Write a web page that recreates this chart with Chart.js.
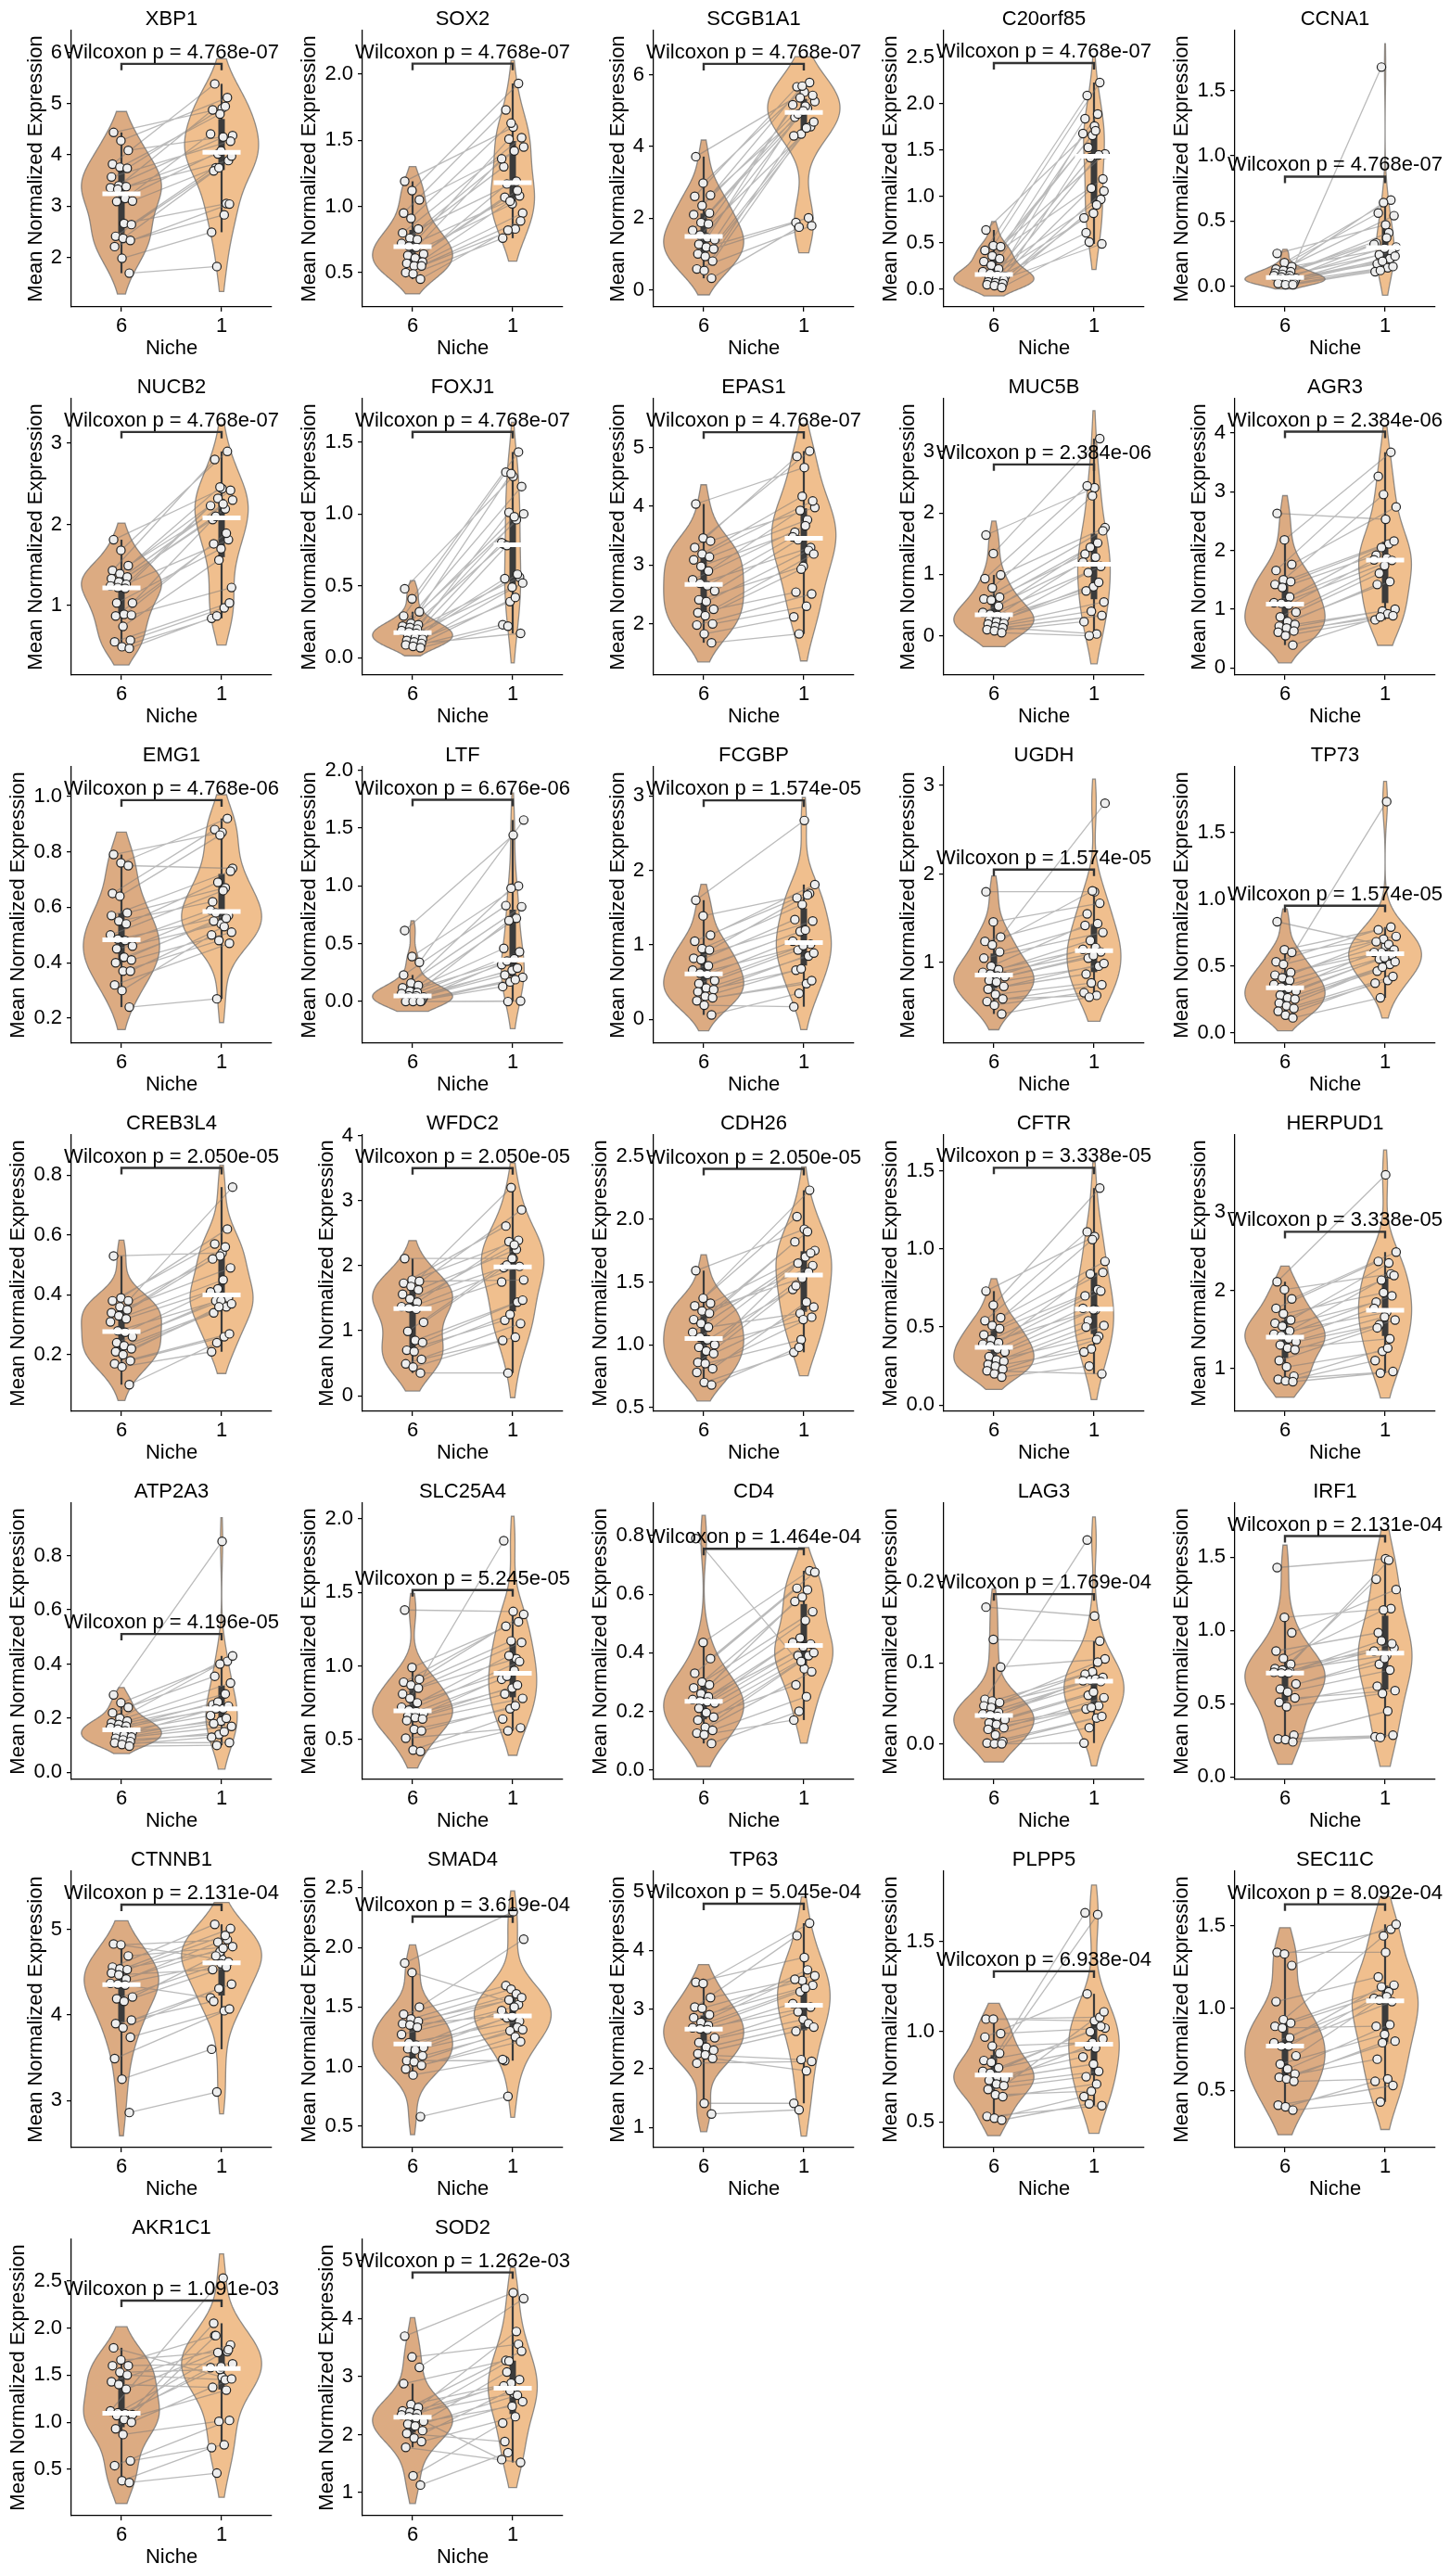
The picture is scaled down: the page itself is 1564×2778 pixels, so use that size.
<!DOCTYPE html>
<html>
<head>
<meta charset="utf-8">
<script src="https://cdn.jsdelivr.net/npm/chart.js@4.4.1/dist/chart.umd.min.js"></script>
<style>
  body { margin: 0; background: #fff; }
  #grid { position: relative; width: 1564px; height: 2778px; }
  #grid canvas { position: absolute; }
</style>
</head>
<body>
<div id="grid"></div>
<script>
const nicheNames = ["6", "1"];

const genes = ["XBP1", "SOX2", "SCGB1A1", "C20orf85", "CCNA1",
    "NUCB2", "FOXJ1", "EPAS1", "MUC5B", "AGR3",
    "EMG1", "LTF", "FCGBP", "UGDH", "TP73",
    "CREB3L4", "WFDC2", "CDH26", "CFTR", "HERPUD1",
    "ATP2A3", "SLC25A4", "CD4", "LAG3", "IRF1",
    "CTNNB1", "SMAD4", "TP63", "PLPP5", "SEC11C",
    "AKR1C1", "SOD2"];

const pLabels = ["4.768e-07", "4.768e-07", "4.768e-07", "4.768e-07", "4.768e-07",
    "4.768e-07", "4.768e-07", "4.768e-07", "2.384e-06", "2.384e-06",
    "4.768e-06", "6.676e-06", "1.574e-05", "1.574e-05", "1.574e-05",
    "2.050e-05", "2.050e-05", "2.050e-05", "3.338e-05", "3.338e-05",
    "4.196e-05", "5.245e-05", "1.464e-04", "1.769e-04", "2.131e-04",
    "2.131e-04", "3.619e-04", "5.045e-04", "6.938e-04", "8.092e-04",
    "1.091e-03", "1.262e-03"];

const yMin = [1.03, 0.24, -0.48, -0.19, -0.16,
    0.14, -0.12, 1.13, -0.64, -0.12,
    0.11, -0.36, -0.32, 0.09, -0.08,
    0.011, -0.24, 0.47, -0.04, 0.45,
    -0.026, 0.23, -0.033, -0.044, -0.017,
    2.45, 0.32, 0.66, 0.357, 0.152,
    0.008, 0.60];

const yMax = [6.43, 2.33, 7.24, 2.79, 1.96,
    3.55, 1.80, 5.83, 3.86, 4.58,
    1.106, 2.03, 3.39, 3.21, 1.99,
    0.934, 4.01, 2.67, 1.73, 3.99,
    0.994, 2.105, 0.911, 0.2975, 1.87,
    5.68, 2.64, 5.34, 1.89, 1.833,
    2.94, 5.37];

// height of the significance bracket, in data units
const bracketY = [5.78, 2.08, 6.31, 2.44, 0.84,
    3.14, 1.57, 5.26, 2.79, 4.02,
    0.986, 1.745, 2.94, 2.05, 0.95,
    0.824, 3.50, 2.40, 1.52, 2.75,
    0.511, 1.515, 0.755, 0.185, 1.645,
    5.29, 2.26, 4.79, 1.335, 1.632,
    2.29, 4.80];

const tickLabels = [
    ["2", "3", "4", "5", "6"], ["0.5", "1.0", "1.5", "2.0"], ["0", "2", "4", "6"],
    ["0.0", "0.5", "1.0", "1.5", "2.0", "2.5"], ["0.0", "0.5", "1.0", "1.5"],
    ["1", "2", "3"], ["0.0", "0.5", "1.0", "1.5"], ["2", "3", "4", "5"],
    ["0", "1", "2", "3"], ["0", "1", "2", "3", "4"],
    ["0.2", "0.4", "0.6", "0.8", "1.0"], ["0.0", "0.5", "1.0", "1.5", "2.0"], ["0", "1", "2", "3"],
    ["1", "2", "3"], ["0.0", "0.5", "1.0", "1.5"],
    ["0.2", "0.4", "0.6", "0.8"], ["0", "1", "2", "3", "4"], ["0.5", "1.0", "1.5", "2.0", "2.5"],
    ["0.0", "0.5", "1.0", "1.5"], ["1", "2", "3"],
    ["0.0", "0.2", "0.4", "0.6", "0.8"], ["0.5", "1.0", "1.5", "2.0"], ["0.0", "0.2", "0.4", "0.6", "0.8"],
    ["0.0", "0.1", "0.2"], ["0.0", "0.5", "1.0", "1.5"],
    ["3", "4", "5"], ["0.5", "1.0", "1.5", "2.0", "2.5"], ["1", "2", "3", "4", "5"],
    ["0.5", "1.0", "1.5"], ["0.5", "1.0", "1.5"],
    ["0.5", "1.0", "1.5", "2.0", "2.5"], ["1", "2", "3", "4", "5"]
];

// one value per sample; index i in niche6 is paired with index i in niche1
const niche6 = [
    [4.44, 4.28, 4.09, 3.82, 3.76, 3.74, 3.57, 3.40, 3.38, 3.36, 3.33, 3.15, 3.10, 3.09, 2.66, 2.64, 2.41, 2.37, 2.33, 2.21, 1.98, 1.69],
    [1.19, 1.12, 1.05, 0.95, 0.91, 0.83, 0.80, 0.76, 0.75, 0.72, 0.70, 0.69, 0.64, 0.63, 0.61, 0.58, 0.57, 0.55, 0.55, 0.50, 0.49, 0.45],
    [3.72, 2.98, 2.64, 2.61, 2.35, 2.14, 2.10, 1.88, 1.84, 1.66, 1.53, 1.45, 1.40, 1.27, 1.19, 1.14, 1.00, 0.93, 0.80, 0.58, 0.54, 0.32],
    [0.64, 0.47, 0.46, 0.42, 0.36, 0.33, 0.30, 0.26, 0.22, 0.19, 0.17, 0.15, 0.14, 0.12, 0.11, 0.10, 0.08, 0.07, 0.06, 0.05, 0.04, 0.02],
    [0.25, 0.18, 0.15, 0.13, 0.12, 0.11, 0.10, 0.09, 0.08, 0.08, 0.07, 0.06, 0.06, 0.05, 0.05, 0.04, 0.04, 0.03, 0.02, 0.02, 0.01, 0.01],
    [1.81, 1.68, 1.49, 1.43, 1.39, 1.35, 1.33, 1.29, 1.26, 1.24, 1.22, 1.21, 1.03, 1.03, 0.89, 0.88, 0.87, 0.74, 0.57, 0.55, 0.49, 0.47],
    [0.48, 0.41, 0.32, 0.29, 0.24, 0.23, 0.22, 0.21, 0.20, 0.19, 0.18, 0.17, 0.16, 0.15, 0.14, 0.13, 0.12, 0.11, 0.10, 0.09, 0.08, 0.07],
    [4.04, 3.46, 3.41, 3.30, 3.19, 3.14, 3.09, 2.98, 2.90, 2.75, 2.69, 2.65, 2.56, 2.41, 2.38, 2.25, 2.19, 2.14, 2.00, 1.98, 1.83, 1.68],
    [1.64, 1.34, 0.99, 0.93, 0.78, 0.63, 0.60, 0.58, 0.48, 0.38, 0.35, 0.33, 0.30, 0.25, 0.23, 0.20, 0.19, 0.15, 0.13, 0.10, 0.08, 0.05],
    [2.63, 2.18, 1.76, 1.66, 1.50, 1.47, 1.42, 1.37, 1.21, 1.11, 1.10, 1.07, 0.95, 0.87, 0.79, 0.74, 0.71, 0.68, 0.63, 0.61, 0.55, 0.39],
    [0.79, 0.76, 0.75, 0.65, 0.64, 0.58, 0.57, 0.55, 0.54, 0.50, 0.485, 0.48, 0.46, 0.45, 0.42, 0.41, 0.40, 0.37, 0.37, 0.32, 0.30, 0.24],
    [0.615, 0.39, 0.34, 0.23, 0.16, 0.14, 0.12, 0.09, 0.08, 0.07, 0.05, 0.05, 0.04, 0.03, 0.03, 0.02, 0.01, 0.01, 0.005, 0.0, 0.0, 0.0],
    [1.60, 1.39, 1.13, 1.05, 0.95, 0.93, 0.82, 0.80, 0.72, 0.66, 0.62, 0.60, 0.52, 0.48, 0.42, 0.40, 0.37, 0.31, 0.29, 0.25, 0.19, 0.06],
    [1.80, 1.46, 1.29, 1.24, 1.20, 1.12, 1.05, 0.96, 0.92, 0.89, 0.87, 0.85, 0.84, 0.80, 0.78, 0.73, 0.70, 0.64, 0.59, 0.56, 0.52, 0.42],
    [0.83, 0.62, 0.60, 0.53, 0.51, 0.45, 0.43, 0.41, 0.39, 0.36, 0.34, 0.33, 0.31, 0.28, 0.26, 0.25, 0.22, 0.20, 0.18, 0.16, 0.13, 0.11],
    [0.53, 0.39, 0.38, 0.38, 0.36, 0.35, 0.34, 0.33, 0.32, 0.31, 0.28, 0.275, 0.26, 0.24, 0.23, 0.22, 0.21, 0.20, 0.18, 0.17, 0.16, 0.10],
    [2.11, 1.78, 1.76, 1.73, 1.68, 1.63, 1.56, 1.49, 1.44, 1.37, 1.35, 1.33, 1.13, 0.99, 0.85, 0.82, 0.70, 0.68, 0.56, 0.49, 0.44, 0.35],
    [1.59, 1.37, 1.33, 1.31, 1.27, 1.25, 1.20, 1.17, 1.14, 1.10, 1.06, 1.04, 1.00, 0.98, 0.95, 0.93, 0.86, 0.85, 0.81, 0.78, 0.70, 0.68],
    [0.73, 0.64, 0.56, 0.54, 0.51, 0.49, 0.45, 0.42, 0.40, 0.39, 0.38, 0.36, 0.34, 0.31, 0.29, 0.28, 0.26, 0.25, 0.23, 0.22, 0.20, 0.18],
    [2.11, 2.01, 1.89, 1.77, 1.70, 1.62, 1.58, 1.54, 1.48, 1.44, 1.42, 1.38, 1.34, 1.30, 1.26, 1.24, 1.10, 1.02, 0.90, 0.86, 0.84, 0.83],
    [0.286, 0.257, 0.24, 0.22, 0.20, 0.19, 0.183, 0.177, 0.171, 0.166, 0.16, 0.154, 0.149, 0.143, 0.137, 0.131, 0.126, 0.12, 0.114, 0.109, 0.103, 0.097],
    [1.38, 0.99, 0.91, 0.89, 0.87, 0.85, 0.81, 0.78, 0.75, 0.72, 0.70, 0.69, 0.68, 0.66, 0.65, 0.64, 0.63, 0.57, 0.56, 0.51, 0.43, 0.42],
    [0.79, 0.435, 0.38, 0.33, 0.30, 0.29, 0.28, 0.26, 0.25, 0.24, 0.235, 0.232, 0.228, 0.21, 0.195, 0.18, 0.17, 0.145, 0.135, 0.125, 0.12, 0.09],
    [0.169, 0.129, 0.095, 0.055, 0.053, 0.051, 0.047, 0.045, 0.039, 0.037, 0.036, 0.034, 0.030, 0.026, 0.024, 0.020, 0.018, 0.011, 0.003, 0.001, 0.0, 0.0],
    [1.43, 1.09, 0.985, 0.86, 0.81, 0.77, 0.74, 0.73, 0.72, 0.715, 0.71, 0.71, 0.635, 0.60, 0.58, 0.54, 0.51, 0.48, 0.285, 0.26, 0.255, 0.24],
    [4.83, 4.82, 4.69, 4.56, 4.54, 4.53, 4.49, 4.47, 4.42, 4.37, 4.36, 4.35, 4.21, 4.19, 4.16, 3.94, 3.90, 3.85, 3.74, 3.49, 3.25, 2.86],
    [1.87, 1.79, 1.50, 1.44, 1.40, 1.38, 1.36, 1.35, 1.33, 1.27, 1.20, 1.18, 1.16, 1.15, 1.14, 1.09, 1.05, 1.04, 1.01, 0.98, 0.93, 0.58],
    [3.46, 3.44, 3.20, 3.04, 3.02, 2.91, 2.86, 2.78, 2.73, 2.69, 2.67, 2.66, 2.52, 2.44, 2.36, 2.31, 2.25, 2.23, 2.17, 2.09, 1.41, 1.23],
    [1.07, 1.07, 0.99, 0.97, 0.92, 0.88, 0.84, 0.83, 0.80, 0.78, 0.77, 0.75, 0.74, 0.73, 0.71, 0.70, 0.68, 0.65, 0.64, 0.53, 0.52, 0.51],
    [1.34, 1.33, 1.26, 1.04, 0.93, 0.91, 0.89, 0.88, 0.82, 0.79, 0.77, 0.77, 0.71, 0.66, 0.63, 0.60, 0.58, 0.57, 0.555, 0.41, 0.40, 0.38],
    [1.79, 1.66, 1.60, 1.60, 1.53, 1.50, 1.43, 1.40, 1.35, 1.12, 1.10, 1.09, 1.08, 1.07, 1.03, 1.00, 0.93, 0.87, 0.59, 0.54, 0.38, 0.36],
    [3.70, 3.34, 3.16, 2.88, 2.52, 2.47, 2.41, 2.39, 2.36, 2.34, 2.31, 2.29, 2.23, 2.18, 2.15, 2.07, 2.02, 1.94, 1.88, 1.78, 1.29, 1.13]
];

const niche1 = [
    [4.91, 5.12, 4.38, 5.39, 4.80, 4.95, 4.27, 4.88, 4.02, 4.35, 3.89, 4.41, 3.75, 4.08, 3.05, 3.98, 3.69, 3.75, 2.83, 3.04, 2.49, 1.82],
    [1.60, 1.93, 1.45, 1.73, 1.63, 1.19, 1.52, 1.30, 1.51, 1.42, 1.08, 1.36, 1.17, 1.02, 1.12, 0.95, 1.07, 1.04, 0.83, 0.89, 0.76, 0.82],
    [5.52, 5.79, 5.26, 5.67, 5.69, 5.07, 5.43, 4.82, 5.36, 5.13, 4.56, 5.17, 4.91, 5.00, 2.01, 4.69, 1.88, 4.35, 4.52, 1.79, 4.30, 1.75],
    [1.76, 2.23, 1.46, 2.09, 1.66, 1.89, 1.19, 1.84, 1.42, 1.71, 0.97, 1.68, 1.53, 0.82, 1.45, 1.06, 0.61, 1.09, 0.91, 0.49, 0.77, 0.51],
    [0.47, 0.66, 0.30, 0.56, 0.64, 0.41, 0.54, 0.33, 1.68, 0.37, 0.26, 0.32, 0.24, 0.29, 0.21, 0.23, 0.17, 0.19, 0.14, 0.15, 0.11, 0.12],
    [2.44, 2.90, 2.30, 2.80, 2.46, 2.19, 2.42, 2.06, 2.32, 2.25, 1.81, 2.23, 2.10, 1.70, 1.89, 1.22, 1.76, 1.56, 0.97, 1.03, 0.84, 0.87],
    [1.26, 1.43, 1.00, 1.29, 1.28, 0.96, 1.19, 0.79, 1.01, 0.98, 0.56, 0.80, 0.78, 0.49, 0.58, 0.52, 0.55, 0.39, 0.42, 0.17, 0.23, 0.22],
    [4.66, 4.94, 3.98, 4.85, 4.17, 3.77, 4.09, 3.56, 3.93, 3.67, 3.30, 3.48, 3.43, 2.98, 3.25, 3.19, 2.54, 2.93, 2.30, 2.51, 2.12, 1.83],
    [2.41, 3.21, 1.76, 2.44, 2.28, 1.51, 1.71, 1.33, 1.44, 1.28, 1.13, 1.20, 1.03, 0.80, 0.87, 0.55, 0.73, 0.40, 0.03, 0.33, 0.23, 0.00],
    [2.53, 3.67, 2.74, 3.26, 2.95, 2.11, 2.16, 1.92, 2.05, 1.87, 1.83, 1.84, 1.61, 1.74, 1.47, 1.00, 1.42, 0.97, 0.92, 0.89, 0.82, 0.87],
    [0.87, 0.92, 0.74, 0.88, 0.86, 0.67, 0.73, 0.62, 0.69, 0.66, 0.57, 0.59, 0.58, 0.54, 0.56, 0.51, 0.55, 0.48, 0.53, 0.47, 0.50, 0.27],
    [1.44, 1.00, 1.57, 0.83, 0.98, 0.72, 0.82, 0.46, 0.70, 0.37, 0.43, 0.32, 0.35, 0.27, 0.29, 0.21, 0.23, 0.17, 0.19, 0.005, 0.13, 0.00],
    [2.67, 1.69, 1.81, 1.63, 1.54, 1.67, 1.32, 1.34, 1.18, 1.20, 1.01, 1.05, 0.93, 0.99, 0.85, 0.89, 0.66, 0.68, 0.48, 0.52, 0.17, 0.35],
    [1.80, 1.67, 2.80, 1.55, 1.81, 1.44, 1.34, 1.42, 1.25, 1.17, 1.12, 1.15, 1.05, 1.08, 0.96, 0.99, 0.87, 0.77, 0.63, 0.75, 0.66, 0.61],
    [0.65, 0.79, 0.72, 0.77, 0.70, 0.66, 0.62, 0.68, 0.60, 1.73, 0.58, 0.60, 0.55, 0.56, 0.51, 0.53, 0.46, 0.49, 0.39, 0.42, 0.37, 0.26],
    [0.54, 0.62, 0.76, 0.57, 0.53, 0.56, 0.49, 0.52, 0.42, 0.45, 0.39, 0.41, 0.38, 0.38, 0.36, 0.37, 0.34, 0.36, 0.26, 0.27, 0.21, 0.24],
    [2.11, 2.39, 1.78, 2.61, 3.20, 2.25, 2.86, 1.97, 2.37, 2.32, 1.99, 1.75, 2.01, 2.11, 1.44, 1.47, 1.16, 1.25, 0.90, 1.11, 0.85, 0.35],
    [1.92, 2.23, 1.75, 2.02, 1.53, 1.90, 1.63, 1.82, 1.25, 1.70, 1.73, 1.44, 1.65, 1.20, 1.58, 1.30, 1.47, 1.04, 1.34, 1.22, 0.94, 0.98],
    [1.08, 1.39, 0.92, 1.11, 1.06, 0.74, 0.85, 0.70, 0.84, 0.61, 0.73, 0.62, 0.54, 0.61, 0.44, 0.51, 0.50, 0.36, 0.42, 0.20, 0.34, 0.25],
    [3.48, 2.21, 2.49, 2.37, 1.97, 2.35, 2.19, 1.85, 2.13, 1.72, 1.93, 1.77, 1.56, 1.66, 1.38, 1.62, 1.52, 1.22, 1.26, 0.96, 1.10, 0.94],
    [0.853, 0.41, 0.43, 0.355, 0.40, 0.29, 0.33, 0.25, 0.26, 0.235, 0.245, 0.21, 0.235, 0.19, 0.20, 0.17, 0.18, 0.14, 0.15, 0.11, 0.13, 0.10],
    [1.37, 1.30, 1.35, 1.27, 1.17, 1.05, 1.16, 1.85, 1.07, 0.97, 1.03, 0.91, 0.93, 0.85, 0.87, 0.78, 0.81, 0.71, 0.73, 0.58, 0.64, 0.56],
    [0.345, 0.68, 0.675, 0.62, 0.59, 0.615, 0.54, 0.575, 0.45, 0.51, 0.43, 0.435, 0.39, 0.42, 0.39, 0.40, 0.29, 0.37, 0.25, 0.335, 0.17, 0.20],
    [0.158, 0.127, 0.105, 0.252, 0.089, 0.101, 0.082, 0.086, 0.079, 0.080, 0.077, 0.078, 0.060, 0.064, 0.047, 0.057, 0.043, 0.045, 0.032, 0.034, 0.001, 0.020],
    [1.49, 1.15, 1.28, 0.985, 1.14, 1.48, 0.88, 1.35, 0.93, 0.83, 0.91, 0.86, 0.77, 0.81, 0.73, 0.59, 0.62, 0.57, 0.45, 0.285, 0.275, 0.27],
    [4.65, 4.88, 4.80, 5.06, 4.74, 4.93, 5.01, 4.53, 4.85, 4.78, 4.62, 4.20, 4.69, 4.60, 4.56, 4.36, 4.16, 4.31, 4.05, 4.07, 3.60, 3.10],
    [2.30, 1.52, 2.07, 1.68, 1.65, 1.61, 1.58, 1.43, 1.56, 1.50, 1.38, 1.47, 1.41, 1.42, 1.33, 1.31, 1.05, 1.30, 1.25, 1.21, 1.06, 0.75],
    [3.88, 4.46, 3.57, 4.25, 3.49, 3.67, 3.41, 3.51, 3.30, 3.36, 3.04, 3.10, 2.96, 2.83, 2.76, 2.70, 2.63, 2.15, 1.96, 2.12, 1.41, 1.30],
    [1.06, 1.08, 1.02, 1.21, 0.94, 1.65, 0.96, 1.66, 1.00, 0.91, 1.03, 0.86, 0.92, 0.82, 0.78, 1.11, 0.75, 0.67, 0.71, 0.59, 0.64, 0.60],
    [1.34, 1.48, 1.51, 1.19, 1.44, 1.10, 1.14, 0.89, 1.13, 1.07, 1.04, 1.06, 1.05, 0.84, 0.90, 0.80, 0.69, 0.79, 0.57, 0.53, 0.555, 0.43],
    [1.48, 1.75, 1.62, 1.92, 1.56, 1.45, 1.82, 1.37, 1.74, 2.53, 1.77, 1.58, 1.92, 1.59, 1.34, 1.46, 2.05, 1.01, 0.76, 1.02, 0.73, 0.46],
    [4.45, 3.56, 4.35, 3.28, 2.89, 3.78, 3.44, 2.84, 3.27, 2.71, 2.95, 1.57, 3.08, 2.49, 2.68, 2.57, 1.88, 2.76, 2.31, 1.52, 2.20, 1.69]
];

const FONT = "'Liberation Sans', Arial, sans-serif";
const violinColors = ["#dcab82", "#f0bf8e"];
const CELL_W = 313, CELL_H = 397;

Chart.defaults.font.family = FONT;
Chart.defaults.font.size = 22;
Chart.defaults.color = "#000";

// numpy-style linear percentile
function quantile(sorted, q) {
    const pos = (sorted.length - 1) * q;
    const lo = Math.floor(pos), hi = Math.ceil(pos);
    return sorted[lo] + (sorted[hi] - sorted[lo]) * (pos - lo);
}

// gaussian KDE with Scott bandwidth, cut = 1 bandwidth past the data
function kde(values) {
    const n = values.length;
    const mean = values.reduce((a, b) => a + b, 0) / n;
    const sd = Math.sqrt(values.reduce((a, v) => a + (v - mean) ** 2, 0) / (n - 1));
    const bw = sd * Math.pow(n, -0.2);
    const lo = Math.min(...values) - bw, hi = Math.max(...values) + bw;
    const pts = [];
    for (let k = 0; k <= 120; k++) {
        const y = lo + (hi - lo) * k / 120;
        let d = 0;
        values.forEach(v => { d += Math.exp(-0.5 * ((y - v) / bw) ** 2); });
        pts.push({ y: y, d: d / (n * bw * Math.sqrt(2 * Math.PI)) });
    }
    return pts;
}

function boxStats(values) {
    const s = [...values].sort((a, b) => a - b);
    const q1 = quantile(s, 0.25), q3 = quantile(s, 0.75), med = quantile(s, 0.5);
    const iqr = q3 - q1;
    const lowW = s.find(v => v >= q1 - 1.5 * iqr);
    const highW = [...s].reverse().find(v => v <= q3 + 1.5 * iqr);
    return { q1, q3, med, lowW, highW };
}

// small fixed horizontal spread for the strip points
function jitter(i, group) {
    const k = group === 0 ? (i * 7 + 3) % 22 : (i * 5 + 11) % 22;
    return (k / 21 - 0.5) * 0.22;
}

const violinPlugin = {
    id: "violins",
    beforeDatasetsDraw(chart) {
        const g = chart.options.plugins.violins.gene;
        const ctx = chart.ctx, xs = chart.scales.x, ys = chart.scales.y;
        const groups = [niche6[g], niche1[g]];
        const dens = groups.map(kde);
        const dmax = Math.max(...dens.flat().map(p => p.d));
        dens.forEach((pts, gi) => {
            ctx.beginPath();
            pts.forEach((p, k) => {
                const px = xs.getPixelForValue(gi + 0.4 * p.d / dmax);
                const py = ys.getPixelForValue(p.y);
                if (k === 0) ctx.moveTo(px, py); else ctx.lineTo(px, py);
            });
            for (let k = pts.length - 1; k >= 0; k--) {
                ctx.lineTo(xs.getPixelForValue(gi - 0.4 * pts[k].d / dmax), ys.getPixelForValue(pts[k].y));
            }
            ctx.closePath();
            ctx.fillStyle = violinColors[gi];
            ctx.fill();
            ctx.strokeStyle = "rgba(110,110,110,0.75)";
            ctx.lineWidth = 1.3;
            ctx.stroke();

            const b = boxStats(groups[gi]);
            const cx = xs.getPixelForValue(gi);
            ctx.strokeStyle = "#3b3b3b";
            ctx.lineCap = "butt";
            ctx.lineWidth = 2.2;
            ctx.beginPath();
            ctx.moveTo(cx, ys.getPixelForValue(b.lowW));
            ctx.lineTo(cx, ys.getPixelForValue(b.highW));
            ctx.stroke();
            ctx.lineWidth = 7;
            ctx.beginPath();
            ctx.moveTo(cx, ys.getPixelForValue(b.q1));
            ctx.lineTo(cx, ys.getPixelForValue(b.q3));
            ctx.stroke();
        });
    },
    afterDatasetsDraw(chart) {
        const g = chart.options.plugins.violins.gene;
        const ctx = chart.ctx, xs = chart.scales.x, ys = chart.scales.y;
        const area = chart.chartArea;
        [niche6[g], niche1[g]].forEach((vals, gi) => {
            const b = boxStats(vals);
            const py = ys.getPixelForValue(b.med);
            ctx.strokeStyle = "#ffffff";
            ctx.lineWidth = 5;
            ctx.beginPath();
            ctx.moveTo(xs.getPixelForValue(gi - 0.19), py);
            ctx.lineTo(xs.getPixelForValue(gi + 0.19), py);
            ctx.stroke();
        });

        // significance bracket and label
        const x0 = xs.getPixelForValue(0), x1 = xs.getPixelForValue(1);
        const by = ys.getPixelForValue(bracketY[g]);
        ctx.strokeStyle = "#333333";
        ctx.lineWidth = 2.4;
        ctx.beginPath();
        ctx.moveTo(x0, by + 7);
        ctx.lineTo(x0, by);
        ctx.lineTo(x1, by);
        ctx.lineTo(x1, by + 7);
        ctx.stroke();
        ctx.fillStyle = "#000";
        ctx.font = "22px " + FONT;
        ctx.textAlign = "center";
        ctx.textBaseline = "alphabetic";
        ctx.fillText("Wilcoxon p = " + pLabels[g], (x0 + x1) / 2, by - 6);

        // titles
        const cx = (area.left + area.right) / 2;
        ctx.fillText(genes[g], cx, 27);
        ctx.fillText("Niche", cx, 382);

        // y label sits left of the widest tick label, as matplotlib places it
        const tickW = Math.max(...tickLabels[g].map(l => ctx.measureText(l).width));
        const labelX = area.left - 10 - tickW - 10;
        ctx.save();
        ctx.translate(labelX, (area.top + area.bottom) / 2);
        ctx.rotate(-Math.PI / 2);
        ctx.fillText("Mean Normalized Expression", 0, 0);
        ctx.restore();
    }
};

function makePanel(g) {
    const col = g % 5, row = Math.floor(g / 5);
    const canvas = document.createElement("canvas");
    canvas.width = CELL_W;
    canvas.height = CELL_H;
    canvas.style.left = Math.round(col * 313.75) + "px";
    canvas.style.top = (row * CELL_H) + "px";
    document.getElementById("grid").appendChild(canvas);

    const v6 = niche6[g], v1 = niche1[g];
    const pairLines = [];
    v6.forEach((v, i) => {
        pairLines.push({ x: jitter(i, 0), y: v });
        pairLines.push({ x: 1 + jitter(i, 1), y: v1[i] });
        pairLines.push({ x: 0.5, y: null });
    });
    const labels = tickLabels[g];
    const axisLine = { display: true, drawOnChartArea: false, drawTicks: true, tickLength: 5, color: "#000", lineWidth: 1.25 };

    new Chart(canvas, {
        type: "scatter",
        data: {
            datasets: [
                {
                    data: pairLines, showLine: true, spanGaps: false, pointRadius: 0,
                    borderColor: "rgba(120,120,120,0.5)", borderWidth: 1.3, order: 3
                },
                {
                    label: "Niche " + nicheNames[0],
                    data: v6.map((v, i) => ({ x: jitter(i, 0), y: v })),
                    pointRadius: 4.6, backgroundColor: "#eeeeee", borderColor: "#222", borderWidth: 1.2, order: 1
                },
                {
                    label: "Niche " + nicheNames[1],
                    data: v1.map((v, i) => ({ x: 1 + jitter(i, 1), y: v })),
                    pointRadius: 4.6, backgroundColor: "#eeeeee", borderColor: "#222", borderWidth: 1.2, order: 1
                }
            ]
        },
        options: {
            responsive: false,
            animation: false,
            events: [],
            devicePixelRatio: 1,
            layout: { padding: { top: 33, right: 20, left: 0, bottom: 0 } },
            plugins: {
                legend: { display: false },
                tooltip: { enabled: false },
                violins: { gene: g }
            },
            scales: {
                x: {
                    type: "linear", min: -0.5, max: 1.5,
                    afterBuildTicks: s => { s.ticks = [{ value: 0 }, { value: 1 }]; },
                    afterFit: s => { s.height = 66; },
                    ticks: { autoSkip: false, maxRotation: 0, padding: 3, callback: v => nicheNames[v] },
                    grid: axisLine,
                    border: { display: true, color: "#000", width: 1.25 }
                },
                y: {
                    type: "linear", min: yMin[g], max: yMax[g],
                    afterBuildTicks: s => { s.ticks = labels.map(l => ({ value: parseFloat(l) })); },
                    afterFit: s => { s.width = 77; },
                    ticks: {
                        autoSkip: false, padding: 5,
                        callback: v => labels.find(l => Math.abs(parseFloat(l) - v) < 1e-9)
                    },
                    grid: axisLine,
                    border: { display: true, color: "#000", width: 1.25 }
                }
            }
        },
        plugins: [violinPlugin]
    });
}

genes.forEach((_, g) => makePanel(g));
</script>
</body>
</html>
